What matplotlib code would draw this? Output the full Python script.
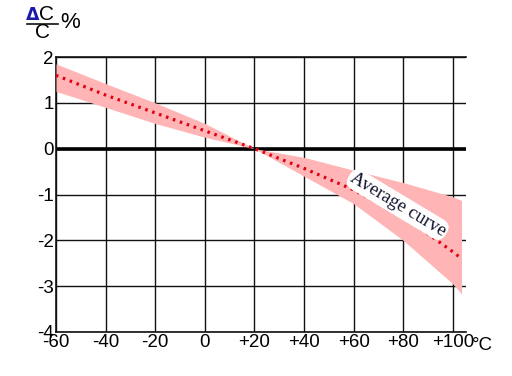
import matplotlib
matplotlib.use("Agg")
import matplotlib.pyplot as plt
from matplotlib.lines import Line2D
from matplotlib import font_manager

# Data
temps = [-60, -40, -20, 0, 20, 40, 60, 80, 100, 103.5]
avg_curve = [1.6, 1.17, 0.78, 0.39, 0.0, -0.43, -0.9, -1.47, -2.25, -2.4]
band_upper = [1.85, 1.42, 1.0, 0.55, 0.0, -0.19, -0.47, -0.74, -1.05, -1.13]
band_lower = [1.25, 0.9, 0.55, 0.25, 0.0, -0.6, -1.2, -2.0, -2.95, -3.17]

x_ticks = [-60, -40, -20, 0, 20, 40, 60, 80, 100]
x_labels = ["-60", "-40", "-20", "0", "+20", "+40", "+60", "+80", "+100"]
y_ticks = [2, 1, 0, -1, -2, -3, -4]
y_labels = ["2", "1", "0", "-1", "-2", "-3", "-4"]

names = {f.name for f in font_manager.fontManager.ttflist}
tick_font = "Liberation Sans Narrow" if "Liberation Sans Narrow" in names else "Liberation Sans"
tick_size = 15 if tick_font == "Liberation Sans Narrow" else 13.5

fig = plt.figure(figsize=(5.12, 3.76), dpi=100)
ax = fig.add_axes([56 / 512, 44 / 376, 410 / 512, 275 / 376])
ax.set_xlim(-60, 105.3)
ax.set_ylim(-4, 2)

# grid
for xv in x_ticks:
    ax.axvline(xv, color="#111111", lw=1.0, zorder=1)
for yv in y_ticks:
    ax.axhline(yv, color="#111111", lw=1.0, zorder=1)
ax.axhline(0, color="black", lw=2.6, zorder=2)

# band and average curve
ax.fill_between(temps, band_lower, band_upper, color="#FFB5B5", lw=0, zorder=3)
ax.plot(temps, avg_curve, color="#E00010", lw=2.3, linestyle=(0, (0.8, 1.5)), zorder=4)

ax.text(77.8, -1.22, "Average curve", rotation=-31, ha="center", va="center",
        family="Liberation Serif", fontsize=13.5, color="#10142e", zorder=5,
        bbox=dict(boxstyle="round,pad=0.12,rounding_size=0.5", fc="white", ec="none"))

ax.spines["right"].set_visible(False)
for s in ["left", "bottom", "top"]:
    ax.spines[s].set_linewidth(1.2)
    ax.spines[s].set_color("#111111")

ax.set_xticks(x_ticks)
ax.set_xticklabels(x_labels)
ax.set_yticks(y_ticks)
ax.set_yticklabels(y_labels)
ax.tick_params(length=0, labelsize=tick_size, pad=1.5)
for lab in ax.get_xticklabels() + ax.get_yticklabels():
    lab.set_family(tick_font)

fig.text(482 / 512, 1 - 346 / 376, "°C", ha="center", va="center",
         fontsize=tick_size, family=tick_font)

# top-left unit label
fig.text(33 / 512, 1 - 15 / 376, "Δ", ha="center", va="center", fontsize=12.5,
         family="DejaVu Sans", weight="bold", color="#1a1aa8")
fig.text(46 / 512, 1 - 15 / 376, "C", ha="center", va="center", fontsize=15,
         family=tick_font)
fig.add_artist(Line2D([27 / 512, 58 / 512], [1 - 23.5 / 376, 1 - 23.5 / 376],
                      transform=fig.transFigure, color="#111111", lw=1.2))
fig.text(43 / 512, 1 - 32.5 / 376, "C", ha="center", va="center", fontsize=15,
         family=tick_font)
fig.text(70 / 512, 1 - 23 / 376, "%", ha="center", va="center", fontsize=16,
         family=tick_font)

fig.savefig("out.png", dpi=100)
